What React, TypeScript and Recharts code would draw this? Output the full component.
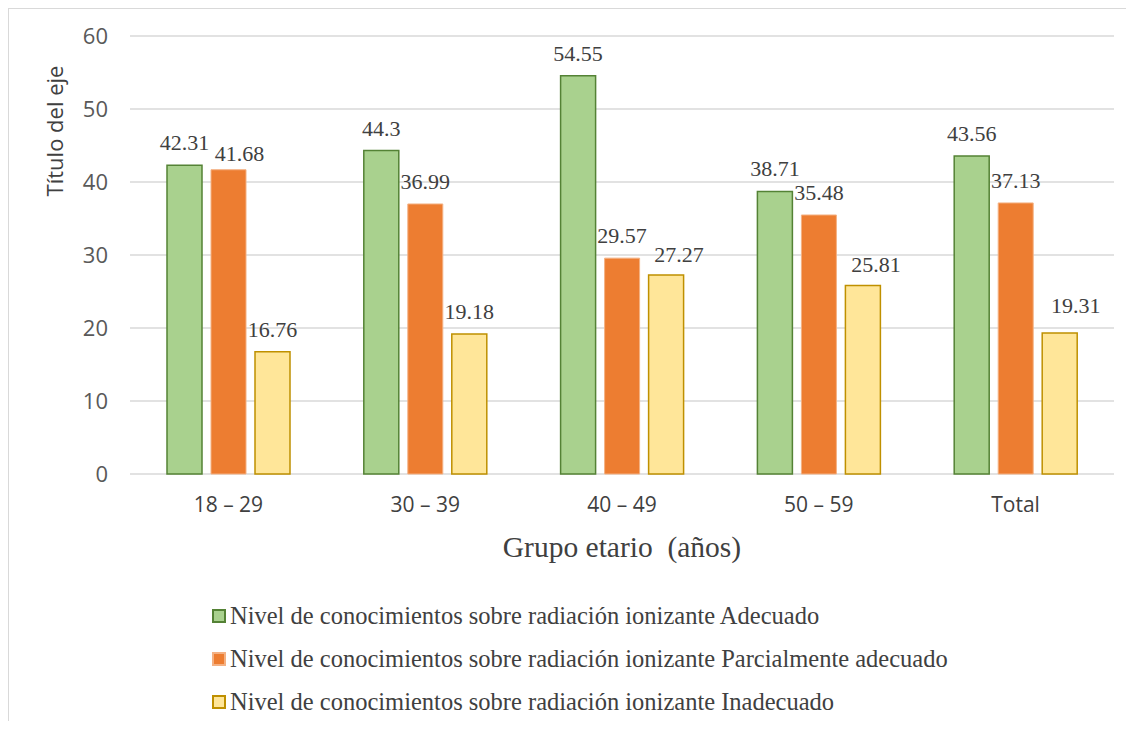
import { BarChart, Bar, XAxis, YAxis, CartesianGrid, Legend, LabelList, Label } from 'recharts'

const categories = ['18 – 29', '30 – 39', '40 – 49', '50 – 59', 'Total']
const adecuado = [42.31, 44.3, 54.55, 38.71, 43.56]
const parcial = [41.68, 36.99, 29.57, 35.48, 37.13]
const inadecuado = [16.76, 19.18, 27.27, 25.81, 19.31]
const yTicks = [0, 10, 20, 30, 40, 50, 60]

const series = [
  { key: 'adecuado', name: 'Nivel de conocimientos sobre radiación ionizante Adecuado', fill: '#a9d18e', stroke: '#548235' },
  { key: 'parcial', name: 'Nivel de conocimientos sobre radiación ionizante Parcialmente adecuado', fill: '#ed7d31', stroke: '#f4b183' },
  { key: 'inadecuado', name: 'Nivel de conocimientos sobre radiación ionizante Inadecuado', fill: '#ffe699', stroke: '#bf9000' },
]

// the original has a few labels dragged sideways so they don't collide
const labelNudge: Record<string, [number, number]> = {
  'parcial-0': [11, 6],
  'inadecuado-2': [13, 2],
  'inadecuado-3': [13, 1],
  'inadecuado-4': [16, -5],
}

const data = categories.map((grupo, i) => ({
  grupo,
  adecuado: adecuado[i],
  parcial: parcial[i],
  inadecuado: inadecuado[i],
}))

const SERIF = 'Liberation Serif'
const SANS = 'Open Sans'

function LegendBox() {
  return (
    <div style={{ display: 'flex', flexDirection: 'column' }}>
      {series.map((s) => (
        <div key={s.key} style={{ display: 'flex', alignItems: 'center', height: 43, fontFamily: SERIF, fontSize: 24.5, color: '#404040', whiteSpace: 'nowrap' }}>
          <span
            style={{
              display: 'inline-block',
              width: 14,
              height: 14,
              boxSizing: 'border-box',
              background: s.fill,
              border: `2px solid ${s.stroke}`,
              marginRight: 4,
            }}
          />
          <span>{s.name}</span>
        </div>
      ))}
    </div>
  )
}

const valueLabel = (seriesKey: string) => (props: any) => {
  const { x, y, width, value, index } = props
  const [dx, dy] = labelNudge[`${seriesKey}-${index}`] || [0, 0]
  return (
    <text
      x={x + width / 2 + dx}
      y={y - 15 + dy}
      textAnchor="middle"
      fill="#404040"
      style={{ fontFamily: SERIF }}
      fontSize={22}
    >
      {value}
    </text>
  )
}

export default function App() {
  return (
    <div
      style={{
        width: 1118,
        height: 713,
        boxSizing: 'border-box',
        borderLeft: '1px solid #d9d9d9',
        borderTop: '1px solid #d9d9d9',
        background: '#fff',
      }}
    >
      <BarChart
        width={1117}
        height={712}
        data={data}
        margin={{ top: 27, right: 12, left: 0, bottom: 0 }}
        barSize={35}
        barGap={9}
      >
        <CartesianGrid vertical={false} stroke="#d9d9d9" strokeWidth={1.5} />
        <XAxis
          dataKey="grupo"
          height={247}
          axisLine={false}
          tickLine={false}
          tickSize={0}
          tickMargin={23}
          tick={{ fontSize: 21, fill: '#404040', fontFamily: SANS }}
        >
          <Label
            content={({ viewBox }: any) => (
              <text
                x={viewBox.x + viewBox.width / 2}
                y={viewBox.y + 73}
                textAnchor="middle"
                dominantBaseline="central"
                style={{ whiteSpace: 'pre', fontFamily: SERIF }}
                fontSize={29.5}
                fill="#404040"
              >
                {'Grupo etario  (años)'}
              </text>
            )}
          />
        </XAxis>
        <YAxis
          width={121}
          domain={[0, 60]}
          ticks={yTicks}
          axisLine={false}
          tickLine={false}
          tickSize={0}
          tickMargin={22}
          tick={{ fontSize: 22, fill: '#595959', fontFamily: SANS }}
        >
          <Label
            content={({ viewBox }: any) => {
              const cx = viewBox.x + 45
              const cy = viewBox.y + 95
              return (
                <text
                  x={cx}
                  y={cy}
                  transform={`rotate(-90, ${cx}, ${cy})`}
                  textAnchor="middle"
                  dominantBaseline="central"
                  style={{ fontFamily: SANS }}
                  fontSize={22}
                  fill="#404040"
                >
                  Título del eje
                </text>
              )
            }}
          />
        </YAxis>
        <Legend
          layout="vertical"
          align="center"
          verticalAlign="middle"
          content={() => <LegendBox />}
          wrapperStyle={{ left: 203, top: 585, width: 900, height: 130 }}
        />
        {series.map((s) => (
          <Bar
            key={s.key}
            dataKey={s.key}
            name={s.name}
            fill={s.fill}
            stroke={s.stroke}
            strokeWidth={s.key === 'parcial' ? 1 : 1.5}
            isAnimationActive={false}
          >
            <LabelList dataKey={s.key} content={valueLabel(s.key)} />
          </Bar>
        ))}
      </BarChart>
    </div>
  )
}
